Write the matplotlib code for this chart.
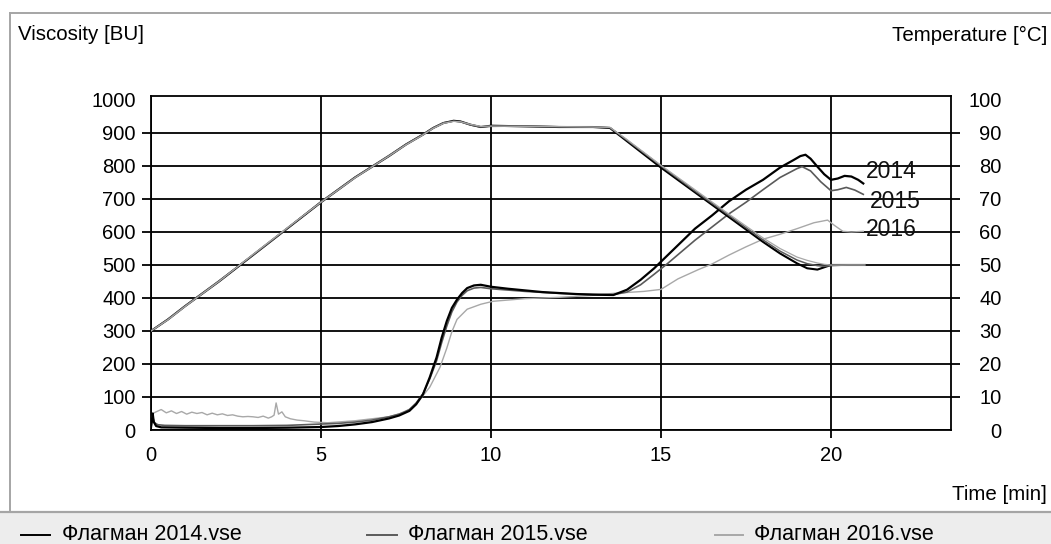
import matplotlib
matplotlib.use("Agg")
import matplotlib.pyplot as plt
from matplotlib.patches import Rectangle
from matplotlib.lines import Line2D

plt.rcParams['font.family'] = ['Liberation Sans', 'DejaVu Sans']

# ---- viscosity curves [BU] ----
t_2014 = [0.0, 0.05, 0.08, 0.15, 0.3, 1, 2, 3, 4, 5, 5.5, 6, 6.5, 7, 7.3, 7.6, 7.8, 8.0,
          8.2, 8.4, 8.55, 8.7, 8.85, 9.0, 9.15, 9.3, 9.5, 9.7, 10.0, 10.5, 11, 11.5, 12,
          12.5, 13, 13.6, 14.0, 14.4, 14.8, 15.2, 15.6, 16.0, 16.5, 17.0, 17.5, 18.0,
          18.5, 18.9, 19.1, 19.25, 19.4, 19.6, 19.8, 20.0, 20.2, 20.4, 20.6, 20.8, 20.95]
v_2014 = [8, 50, 25, 12, 8, 7, 6, 6, 7, 9, 12, 17, 24, 35, 44, 58, 78, 108,
          160, 220, 280, 330, 370, 395, 415, 430, 438, 440, 434, 428, 423, 418, 415,
          412, 410, 409, 425, 455, 490, 530, 570, 610, 650, 693, 728, 758,
          795, 818, 830, 834, 822, 798, 775, 758, 762, 770, 768, 758, 747]

t_2015 = [0.0, 0.05, 0.1, 0.2, 0.4, 1, 2, 3, 4, 5, 5.5, 6, 6.5, 7, 7.3, 7.6, 7.8, 8.0,
          8.2, 8.4, 8.55, 8.7, 8.85, 9.0, 9.15, 9.3, 9.5, 9.7, 10.0, 10.5, 11, 11.5, 12,
          12.5, 13, 13.6, 14.0, 14.4, 14.8, 15.2, 15.6, 16.0, 16.5, 17.0, 17.5, 18.0,
          18.5, 19.0, 19.15, 19.4, 19.7, 20.0, 20.2, 20.45, 20.7, 20.95]
v_2015 = [10, 40, 22, 16, 14, 13, 13, 13, 14, 18, 20, 24, 30, 40, 48, 62, 82, 110,
          155, 210, 265, 315, 358, 388, 408, 422, 430, 432, 428, 424, 420, 417, 414,
          412, 411, 410, 418, 440, 472, 505, 540, 575, 615, 655, 690, 728,
          765, 792, 798, 785, 752, 725, 728, 735, 727, 714]

t_2016 = [0.0, 0.05, 0.15, 0.3, 0.45, 0.6, 0.75, 0.9, 1.05, 1.2, 1.35, 1.5, 1.65,
          1.8, 1.95, 2.1, 2.25, 2.4, 2.55, 2.7, 2.85, 3.0, 3.15, 3.3, 3.45, 3.55,
          3.62, 3.68, 3.75, 3.85, 3.95, 4.1, 4.3, 4.5, 4.8, 5.2, 6.0, 7.0, 7.5, 7.8,
          8.2, 8.5, 8.7, 8.85, 9.0, 9.3, 9.7, 10.06, 11, 12, 13, 13.6, 14.5, 15.0,
          15.5, 16.1, 16.5, 17.0, 17.5, 18.0, 18.5, 19.0, 19.5, 19.9, 20.1, 20.35,
          20.6, 20.95]
v_2016 = [12, 50, 55, 62, 52, 58, 50, 56, 48, 54, 50, 53, 46, 51, 46, 49, 44, 46,
          42, 40, 41, 40, 38, 42, 36, 40, 45, 82, 48, 55, 40, 34, 30, 28, 24, 22,
          28, 40, 55, 78, 130, 190, 248, 298, 335, 366, 381, 390, 398, 402, 408,
          414, 420, 426, 458, 486, 503, 530, 555, 578, 593, 610, 628, 636, 620,
          602, 600, 602]

# ---- temperature curves [°C] ----
t_temp = [0, 0.5, 1, 2, 3, 4, 5, 6, 7, 7.5, 8, 8.3, 8.6, 8.9, 9.1, 9.4, 9.7, 10, 11,
          12, 13, 13.5, 14, 15, 16, 17, 18, 18.5, 19, 19.3, 19.6, 19.8, 20.0, 20.5, 21.0]
temp_2014 = [30, 33.5, 37.5, 45, 53, 61, 69, 76.5, 83, 86.5, 89.5, 91.5, 93, 93.7,
             93.5, 92.5, 91.8, 92.2, 92, 91.8, 91.8, 91.5, 87.5, 79.5, 72, 64.5, 57,
             53.5, 50.5, 49, 48.6, 49.3, 50, 50, 50]
temp_2015 = [30, 33.6, 37.6, 45.2, 53, 61, 69.2, 76.6, 83.2, 86.6, 89.6, 91.6, 93.1,
             93.6, 93.4, 92.4, 91.8, 92, 92.1, 91.9, 91.8, 91.6, 87.8, 80, 72.4, 65,
             57.6, 54.2, 51.5, 50.4, 49.8, 49.6, 49.8, 50, 50]
temp_2016 = [30, 33.4, 37.4, 45, 53.2, 61.2, 69, 76.4, 83, 86.4, 89.4, 91.4, 92.9,
             93.5, 93.4, 92.6, 92, 92.1, 92, 91.9, 91.8, 91.7, 88, 80.2, 72.8, 65.4,
             58.2, 55, 52.4, 51.4, 50.6, 50.2, 50, 50, 50]

years = ["2014", "2015", "2016"]
legend_labels = ["Флагман 2014.vse", "Флагман 2015.vse", "Флагман 2016.vse"]
colors = ["#000000", "#5a5a5a", "#a8a8a8"]
widths = [1.6, 1.2, 1.0]

visc_ticks = [0, 100, 200, 300, 400, 500, 600, 700, 800, 900, 1000]
temp_ticks = [0, 10, 20, 30, 40, 50, 60, 70, 80, 90, 100]
time_ticks = [0, 5, 10, 15, 20]

W, H = 1051, 544
fig = plt.figure(figsize=(W / 100, H / 100), dpi=100)
fig.patch.set_facecolor("white")

# window frame and legend strip
fig.patches.append(Rectangle((0, 0), 1, (H - 512) / H, transform=fig.transFigure,
                             facecolor="#ededed", edgecolor="none", zorder=0))
fig.add_artist(Line2D([0, 1], [(H - 512) / H] * 2, transform=fig.transFigure,
                      color="#a5a5a5", lw=1.6))
fig.add_artist(Line2D([9.5 / W, 9.5 / W], [(H - 512) / H, (H - 13) / H],
                      transform=fig.transFigure, color="#a5a5a5", lw=1.4))
fig.add_artist(Line2D([9.5 / W, 1], [(H - 13) / H] * 2,
                      transform=fig.transFigure, color="#a5a5a5", lw=1.4))

ax = fig.add_axes([151 / W, (H - 430) / H, 800 / W, 334 / H])
ax.set_xlim(0, 23.53)
ax.set_ylim(0, 1012)
ax.set_xticks(time_ticks)
ax.set_yticks(visc_ticks)
ax.grid(True, color="black", lw=1.3, zorder=1)
for s in ax.spines.values():
    s.set_color("black")
    s.set_linewidth(1.3)
ax.tick_params(axis="y", direction="out", length=6.5, width=1.3, pad=4.5,
               labelsize=14.5, colors="black")
ax.tick_params(axis="x", direction="out", length=5.8, width=1.3, pad=6,
               labelsize=14.5, colors="black")
ax.set_axisbelow(True)

ax2 = ax.twinx()
ax2.set_ylim(0, 101.2)
ax2.set_yticks(temp_ticks)
ax2.tick_params(axis="y", direction="out", length=6.5, width=1.3, pad=30,
                labelsize=14.5, colors="black")
for lab in ax2.get_yticklabels():
    lab.set_horizontalalignment("right")
for s in ax2.spines.values():
    s.set_visible(False)

# ticks at the frame edges carry no tick mark
xt = ax.xaxis.get_major_ticks()
xt[0].tick1line.set_visible(False)
yt = ax.yaxis.get_major_ticks()
yt[0].tick1line.set_visible(False)
yt[-1].tick1line.set_visible(False)
yt[-1].gridline.set_visible(False)
rt = ax2.yaxis.get_major_ticks()
rt[0].tick2line.set_visible(False)
rt[-1].tick2line.set_visible(False)

visc = [(t_2014, v_2014), (t_2015, v_2015), (t_2016, v_2016)]
temps = [temp_2014, temp_2015, temp_2016]
# temperature traces: darker ones underneath, lighter drawn over them
for i in [0, 1, 2]:
    ax2.plot(t_temp, temps[i], color=colors[i], lw=widths[i] - 0.1, zorder=3)
for i in [2, 1, 0]:
    t, v = visc[i]
    ax.plot(t, v, color=colors[i], lw=widths[i], zorder=3)

label_pos = [(21.03, 783), (21.15, 692), (21.03, 606)]
for yr, (lx, ly) in zip(years, label_pos):
    ax.text(lx, ly, yr, fontsize=16.5, ha="left", va="center", color="#111111", zorder=5)

fig.text(18 / W, 1 - 35 / H, "Viscosity [BU]", fontsize=14.8, ha="left", va="center")
fig.text(1047 / W, 1 - 35 / H, "Temperature [°C]", fontsize=14.8, ha="right", va="center")
fig.text(1047 / W, 1 - 494 / H, "Time [min]", fontsize=14.8, ha="right", va="center")

# legend strip entries
leg_line_x = [(21, 50), (367, 397), (715, 743)]
leg_text_x = [62, 408, 754]
for i in range(3):
    x0, x1 = leg_line_x[i]
    fig.add_artist(Line2D([x0 / W, x1 / W], [1 - 535 / H] * 2, transform=fig.transFigure,
                          color=colors[i], lw=1.4))
    fig.text(leg_text_x[i] / W, 1 - 535 / H, legend_labels[i], fontsize=15.5,
             ha="left", va="center")

fig.savefig("out.png", dpi=100)
